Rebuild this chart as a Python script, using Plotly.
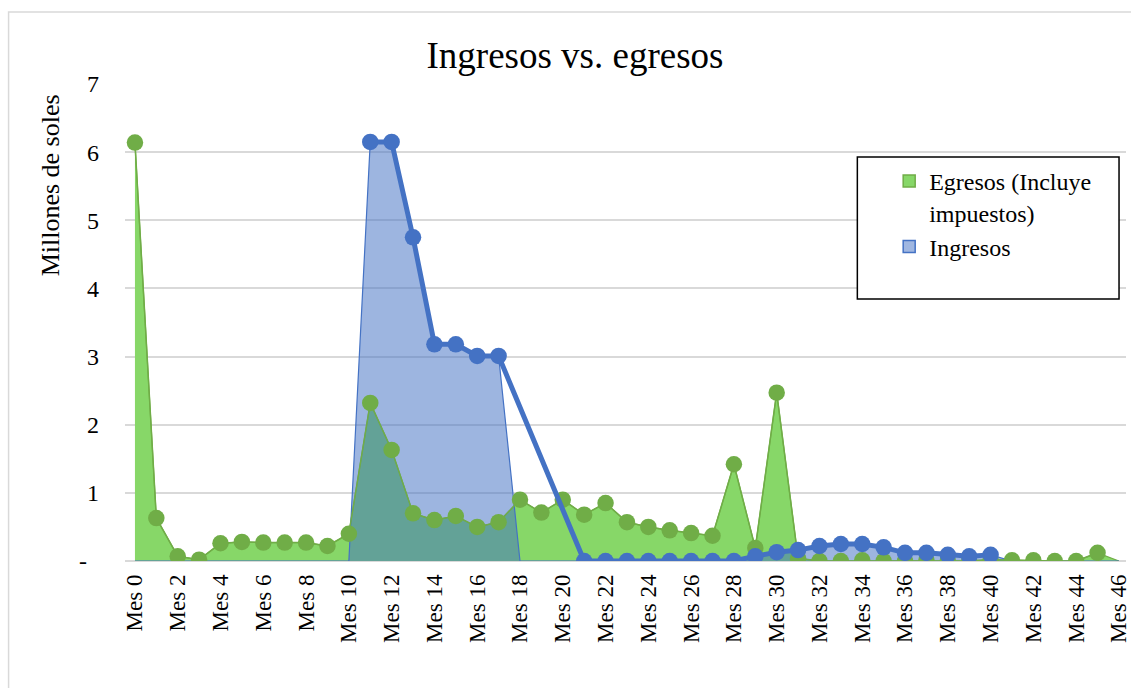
import plotly.graph_objects as go

# Months of the project horizon
meses = [f"Mes {i}" for i in range(47)]

# Outflows (millions of soles), including taxes
egresos = [6.14, 0.63, 0.07, 0.02, 0.26, 0.28, 0.27, 0.27, 0.27, 0.22,
           0.40, 2.32, 1.63, 0.70, 0.60, 0.66, 0.50, 0.57, 0.90, 0.71,
           0.90, 0.68, 0.85, 0.57, 0.50, 0.45, 0.41, 0.37, 1.42, 0.19,
           2.47, 0.04, 0.00, 0.00, 0.01, 0.00, 0.00, 0.01, 0.00, 0.00,
           0.02, 0.01, 0.01, 0.00, 0.00, 0.12, 0.00]

# Inflows (millions of soles); None = no entry for that month
ingresos = [None] * 11 + [6.15, 6.15, 4.75, 3.18, 3.18, 3.01, 3.01] + \
           [None] * 3 + [0.0] * 8 + \
           [0.07, 0.13, 0.16, 0.22, 0.25, 0.25, 0.20, 0.12, 0.12, 0.09, 0.07, 0.09] + \
           [None] * 6

# Area series treat empty months as zero
ingresos_area = [v if v is not None else 0.0 for v in ingresos]

y_ticks = [0, 1, 2, 3, 4, 5, 6, 7]
y_ticktext = ["-\u00a0\u00a0", "1", "2", "3", "4", "5", "6", "7"]

GREEN = "#70ad47"
GREEN_FILL = "rgb(135,215,104)"
BLUE = "#4472c4"
BLUE_FILL = "rgba(68,114,196,0.52)"
FONT = "Liberation Serif"

fig = go.Figure()

# Filled areas
fig.add_trace(go.Scatter(
    x=meses, y=egresos, mode="lines", fill="tozeroy",
    fillcolor=GREEN_FILL, line=dict(color=GREEN, width=1.2),
    showlegend=False, hoverinfo="skip"))
fig.add_trace(go.Scatter(
    x=meses, y=ingresos_area, mode="lines", fill="tozeroy",
    fillcolor=BLUE_FILL, line=dict(color=BLUE, width=1.2),
    showlegend=False, hoverinfo="skip"))

# Marker lines on top of the areas
fig.add_trace(go.Scatter(
    x=meses[:46], y=egresos[:46], mode="lines+markers",
    line=dict(color=GREEN, width=1.5),
    marker=dict(color=GREEN, size=16.5),
    showlegend=False))
fig.add_trace(go.Scatter(
    x=meses, y=ingresos, mode="lines+markers", connectgaps=True,
    line=dict(color=BLUE, width=5),
    marker=dict(color=BLUE, size=16.5),
    showlegend=False))

# Legend entries (square swatches)
fig.add_trace(go.Scatter(
    x=[None], y=[None], mode="markers", name="Egresos (Incluye<br>impuestos)",
    marker=dict(symbol="square", size=12, color=GREEN_FILL,
                line=dict(color=GREEN, width=1.5))))
fig.add_trace(go.Scatter(
    x=[None], y=[None], mode="markers", name="Ingresos",
    marker=dict(symbol="square", size=12, color="rgb(160,183,225)",
                line=dict(color=BLUE, width=1.5))))

W, H = 1131, 688
L, R, T, B = 125, 0, 84, 127
pw, ph = W - L - R, H - T - B


def px_x(p):
    return (p - L) / pw


def px_y(p):
    return (H - B - p) / ph


fig.update_layout(
    width=W, height=H,
    margin=dict(l=L, r=R, t=T, b=B),
    paper_bgcolor="white", plot_bgcolor="white",
    font=dict(family=FONT, color="black"),
    title=dict(text="Ingresos vs. egresos", x=575 / W, xref="container",
               xanchor="center", y=1 - 55 / H, yanchor="middle",
               font=dict(size=37, family=FONT, color="black")),
    xaxis=dict(type="category", range=[-0.465, 46.33],
               tickvals=meses[::2], ticktext=meses[::2],
               tickangle=-90, tickfont=dict(size=23, family=FONT, color="black"),
               showgrid=False, zeroline=False, showline=False,
               ticks="", ticklabelstandoff=8, fixedrange=True),
    yaxis=dict(range=[0, 7], tickvals=y_ticks, ticktext=y_ticktext,
               tickfont=dict(size=24, family=FONT, color="black"),
               showgrid=True, gridcolor="#d9d9d9",
               gridwidth=1.5, zeroline=True, zerolinecolor="#d9d9d9",
               zerolinewidth=1.5, showline=False, ticks="",
               ticklabelstandoff=25, fixedrange=True),
    legend=dict(x=px_x(893), y=px_y(159), xanchor="left", yanchor="top",
                bgcolor="rgba(0,0,0,0)", borderwidth=0,
                font=dict(size=24, family=FONT, color="black"),
                itemwidth=30, valign="top"),
    annotations=[
        # y-axis title, placed in the upper part of the axis
        dict(text="Millones de soles", xref="paper", yref="paper",
             x=px_x(50), y=px_y(185), xanchor="center", yanchor="middle",
             textangle=-90, showarrow=False,
             font=dict(size=26, family=FONT, color="black")),
    ],
    shapes=[
        # outer chart border
        dict(type="rect", xref="paper", yref="paper",
             x0=px_x(8), x1=px_x(1200), y0=px_y(760), y1=px_y(12),
             line=dict(color="#d9d9d9", width=1.5), fillcolor="rgba(0,0,0,0)",
             layer="below"),
        # legend box
        dict(type="rect", xref="paper", yref="paper",
             x0=px_x(861), x1=px_x(1124), y0=px_y(299), y1=px_y(157),
             line=dict(color="black", width=1.5), fillcolor="white",
             layer="above"),
    ],
)

fig.write_html("out.html")
